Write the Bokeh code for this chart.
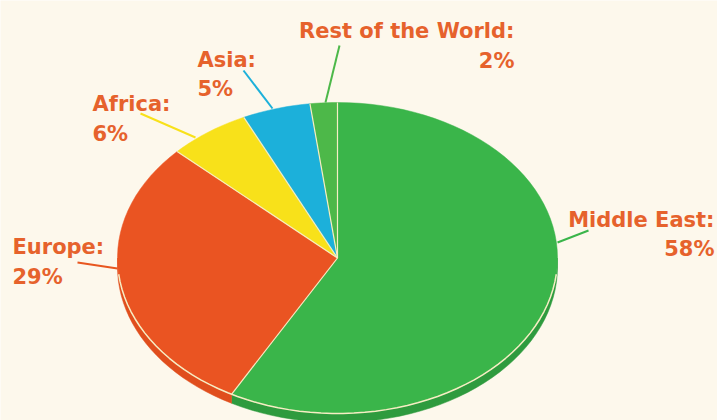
import numpy as np
from bokeh.plotting import figure
from bokeh.models import Range1d
from bokeh.core.properties import value
from bokeh.embed import file_html
from bokeh.resources import INLINE

# ---- data ----
regions = ["Middle East", "Europe", "Africa", "Asia", "Rest of the World"]
shares = [58, 29, 6, 5, 2]
pct_labels = ["58%", "29%", "6%", "5%", "2%"]
top_colors = ["#3AB54A", "#EA5422", "#F8E11A", "#1CB0DA", "#4DB849"]
side_colors = ["#2E9B3E", "#E04E1D", "#E0CA10", "#1898C0", "#3E9E3C"]

# ---- layout ----
BG = "#FDF8EC"
LABEL = "#E6622C"
PALE = "#F6EDC4"
W, H = 717, 420
cx, cy, rx, ry, depth = 337.0, 257.5, 220.0, 155.5, 9.0

p = figure(width=W, height=H, x_range=Range1d(0, W), y_range=Range1d(H, 0),
           min_border=0, toolbar_location=None, output_backend="svg",
           background_fill_color=BG, border_fill_color=BG, outline_line_color=None)
p.axis.visible = False
p.grid.visible = False


def arc(t0, t1, dy=0.0, n=120):
    t = np.radians(np.linspace(t0, t1, max(4, int(n * (t1 - t0) / 360) + 4)))
    return cx + rx * np.sin(t), cy + dy - ry * np.cos(t)


total = float(sum(shares))
bounds = np.concatenate([[0], np.cumsum(shares)]) / total * 360.0

# side (extrusion) for the front half
sx, sy, sc = [], [], []
for i in range(len(shares)):
    a0, a1 = max(bounds[i], 90.0), min(bounds[i + 1], 270.0)
    if a1 > a0:
        ux, uy = arc(a0, a1)
        lx, ly = arc(a0, a1, dy=depth)
        sx.append(list(ux) + list(lx[::-1]))
        sy.append(list(uy) + list(ly[::-1]))
        sc.append(side_colors[i])
p.patches(sx, sy, fill_color=sc, line_color=sc, line_width=0.5)

# top surface
tx, ty = [], []
for i in range(len(shares)):
    ax, ay = arc(bounds[i], bounds[i + 1])
    tx.append([cx] + list(ax))
    ty.append([cy] + list(ay))
p.patches(tx, ty, fill_color=top_colors, line_color=top_colors, line_width=0.5)

# pale separators
bx = cx + rx * np.sin(np.radians(bounds[:-1]))
by = cy - ry * np.cos(np.radians(bounds[:-1]))
p.segment(x0=[cx] * len(bx), y0=[cy] * len(bx), x1=bx, y1=by,
          line_color=PALE, line_width=1.2)
fx, fy = arc(96, 264)
p.line(fx, fy, line_color=PALE, line_width=1.5)

# leader lines (x0, y0, x1, y1) in pixel space
leaders = {
    "Middle East": (588, 230, 557, 242),
    "Europe": (77, 262, 117, 268),
    "Africa": (140, 113, 195, 137),
    "Asia": (243, 70, 272, 108),
    "Rest of the World": (339, 45, 325, 102),
}
lead_colors = ["#3AB54A", "#E8561F", "#F8E11A", "#1CB0DA", "#4DB849"]
p.segment(x0=[leaders[r][0] for r in regions], y0=[leaders[r][1] for r in regions],
          x1=[leaders[r][2] for r in regions], y1=[leaders[r][3] for r in regions],
          line_color=lead_colors, line_width=2)

# labels: (x, baseline1, baseline2, align)
label_pos = {
    "Middle East": (714, 219, 248, "right"),
    "Europe": (12, 246, 276, "left"),
    "Africa": (92, 103, 133, "left"),
    "Asia": (197, 59, 88, "left"),
    "Rest of the World": (514, 30, 60, "right"),
}
for r, pl in zip(regions, pct_labels):
    x, b1, b2, al = label_pos[r]
    p.text(x=[x, x], y=[b1, b2], text=[r + ":", pl], text_align=al,
           text_baseline="alphabetic", text_color=LABEL,
           text_font=value("DejaVu Sans"), text_font_style="bold",
           text_font_size="21px")

open("out.html", "w").write(file_html(p, INLINE))
